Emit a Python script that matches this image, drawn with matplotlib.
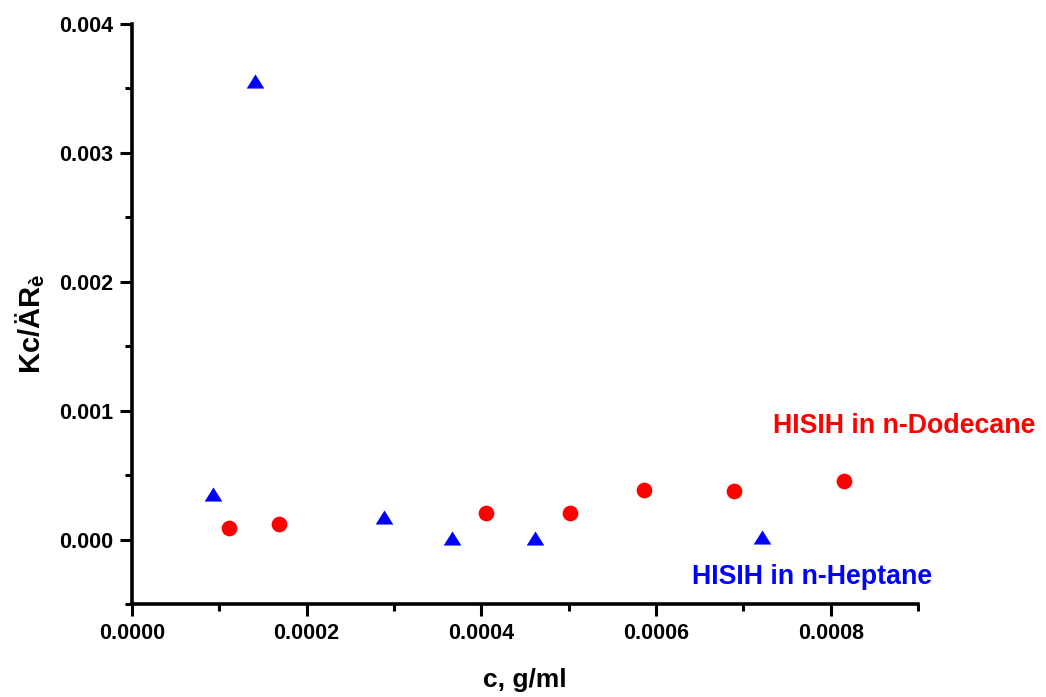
import matplotlib
matplotlib.use('Agg')
import matplotlib.pyplot as plt
from matplotlib.ticker import MultipleLocator, FormatStrFormatter

# HISIH in n-Heptane (triangles)
heptane_c = [0.000093, 0.000141, 0.000288, 0.000366, 0.000461, 0.000721]
heptane_kc = [0.000352, 0.003556, 0.000175, 0.000010, 0.000010, 0.000020]

# HISIH in n-Dodecane (circles)
dodecane_c = [0.000111, 0.000168, 0.000405, 0.000502, 0.000586, 0.000689, 0.000815]
dodecane_kc = [0.000087, 0.000118, 0.000206, 0.000206, 0.000387, 0.000379, 0.000451]

plt.rcParams['font.family'] = ['Liberation Sans', 'DejaVu Sans']
plt.rcParams['font.weight'] = 'bold'
plt.rcParams['mathtext.default'] = 'regular'

W, H = 1046, 697
fig = plt.figure(figsize=(W / 100, H / 100), dpi=100)
ax = fig.add_axes([132 / W, 1 - 604 / H, 786 / W, 580 / H])

# squashed triangle, a bit wider than tall
tri = [(-1, -0.8), (1, -0.8), (0, 0.8), (-1, -0.8)]
ax.plot(heptane_c, heptane_kc, linestyle='none', marker=tri, markersize=12.7,
        color='#0000ff', markeredgewidth=0, clip_on=False)
ax.plot(dodecane_c, dodecane_kc, linestyle='none', marker='o', markersize=11.3,
        color='#ff0000', markeredgewidth=0, clip_on=False)

ax.set_xlim(0, 0.0009)
ax.set_ylim(-0.0005, 0.004)

ax.xaxis.set_major_locator(MultipleLocator(0.0002))
ax.xaxis.set_minor_locator(MultipleLocator(0.0001))
ax.yaxis.set_major_locator(MultipleLocator(0.001))
ax.yaxis.set_minor_locator(MultipleLocator(0.0005))
ax.xaxis.set_major_formatter(FormatStrFormatter('%.4f'))
ax.yaxis.set_major_formatter(FormatStrFormatter('%.3f'))

for side in ['top', 'right']:
    ax.spines[side].set_visible(False)
for side in ['left', 'bottom']:
    ax.spines[side].set_linewidth(2.6)

ax.tick_params(which='major', direction='out', length=8.5, width=2.2,
               labelsize=15.5, pad=5)
ax.tick_params(which='minor', direction='out', length=5, width=2.2)
for lbl in ax.get_xticklabels() + ax.get_yticklabels():
    lbl.set_fontweight('bold')

fig.text(525 / W, 1 - 680 / H, 'c, g/ml', ha='center', va='center',
         fontsize=19, fontweight='bold')
fig.text(30 / W, 1 - 324 / H, r'Kc/ÄR$_{è}$', rotation=90, ha='center',
         va='center', fontsize=21, fontweight='bold')

fig.text(773 / W, 1 - 426 / H, 'HISIH in n-Dodecane', ha='left', va='center',
         fontsize=19.3, fontweight='bold', color='#ff0000')
fig.text(932 / W, 1 - 577 / H, 'HISIH in n-Heptane', ha='right', va='center',
         fontsize=19.3, fontweight='bold', color='#0000ff')

fig.savefig('out.png', dpi=100)
